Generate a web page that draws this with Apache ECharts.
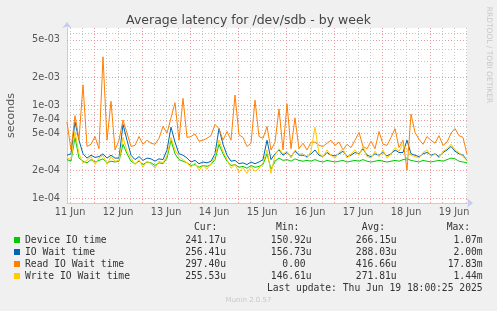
<!DOCTYPE html>
<html><head><meta charset="utf-8">
<script src="https://cdn.jsdelivr.net/npm/echarts@6/dist/echarts.min.js"></script>
<style>html,body{margin:0;padding:0;background:#f0f0f0;}#c{width:497px;height:311px;}</style>
</head><body><div id="c"></div>
<script>
// ---- data ----
const seriesNames = ['Device IO time', 'IO Wait time', 'Read IO Wait time', 'Write IO Wait time'];
const startHour = 10.5;   // hours after 11 Jun 00:00
const stepHours = 2;
const endHour = 210.5;
// values in microseconds
const deviceUs = [
  260,250,450,270,250,240,260,245,255,265,
  240,250,245,250,380,300,250,235,250,230,
  245,240,225,240,235,270,420,300,260,250,
  240,225,230,215,225,220,230,260,380,300,
  250,225,230,215,220,210,225,215,220,230,
  300,205,250,270,255,260,250,265,255,250,
  255,250,260,250,245,255,250,245,250,255,
  245,250,255,250,260,250,245,250,255,250,
  245,250,255,250,260,265,255,250,245,255,
  250,245,250,255,250,260,270,265,250,245,
  241];
const ioWaitUs = [
  290,300,660,420,300,270,290,275,280,300,
  270,290,270,270,620,420,290,260,280,255,
  270,265,250,265,260,330,580,400,300,290,
  270,245,255,235,245,240,250,300,560,380,
  290,250,255,235,240,230,245,235,245,260,
  420,260,300,330,290,310,280,320,290,290,
  280,300,330,290,280,310,290,285,300,320,
  280,290,310,300,340,290,280,300,290,310,
  285,300,330,310,310,420,300,290,280,300,
  310,290,300,280,310,330,360,320,300,290,
  256];
const readUs = [
  660,330,770,430,1650,360,380,460,340,3300,
  420,1100,330,420,690,500,360,370,460,380,
  420,390,380,440,590,500,730,1060,420,1180,
  450,460,490,410,420,440,470,620,560,420,
  520,420,1280,480,450,360,390,1130,460,440,
  590,330,400,910,330,1030,340,730,340,390,
  330,400,400,370,360,390,420,370,400,330,
  380,350,420,510,360,340,410,340,520,380,
  370,450,560,350,420,200,800,510,430,380,
  460,420,390,470,370,400,500,560,470,450,
  297];
const writeUs = [
  270,260,520,300,240,255,280,230,270,290,
  230,280,250,255,450,320,270,230,260,215,
  250,235,210,250,240,290,450,330,280,260,
  240,215,240,200,225,205,235,280,420,320,
  260,210,230,190,215,185,220,195,210,240,
  330,185,290,340,300,320,270,330,300,300,
  270,320,580,300,280,330,290,270,310,340,
  270,300,330,290,360,280,270,320,280,330,
  270,300,350,320,380,330,290,280,270,310,
  330,280,300,270,320,340,380,330,310,280,
  255];
const yMin = 8.9e-5, yMax = 6.72e-3;
const yLabelValues = [1e-4, 2e-4, 5e-4, 7e-4, 1e-3, 2e-3, 5e-3];
const yMinorValues = [3e-4, 4e-4, 6e-4, 8e-4, 9e-4, 3e-3, 4e-3, 6e-3];
const xLabelHours = [12, 36, 60, 84, 108, 132, 156, 180, 204];
const xLabelTexts = ['11 Jun','12 Jun','13 Jun','14 Jun','15 Jun','16 Jun','17 Jun','18 Jun','19 Jun'];
const xDayHours = [24, 48, 72, 96, 120, 144, 168, 192];
const xMinorHours = [12,18,30,36,42,54,60,66,78,84,90,102,108,114,126,132,138,150,156,162,174,180,186,198,204,210];
const statHeaders = ['Cur:', 'Min:', 'Avg:', 'Max:'];
const curVals = ['241.17u', '256.41u', '297.40u', '255.53u'];
const minVals = ['150.92u', '156.73u', '0.00', '146.61u'];
const avgVals = ['266.15u', '288.03u', '416.66u', '271.81u'];
const maxVals = ['1.07m', '2.00m', '17.83m', '1.44m'];
const titleText = 'Average latency for /dev/sdb - by week';
const lastUpdate = 'Last update: Thu Jun 19 18:00:25 2025';
const watermark = 'Munin 2.0.57';
const sideText = 'RRDTOOL / TOBI OETIKER';

// ---- chart ----
const colors = ['#00cc00', '#0066b3', '#ff8000', '#ffcc00'];
const allData = [deviceUs, ioWaitUs, readUs, writeUs];
const toPairs = arr => arr.map((v, i) => [startHour + i * stepHours, v / 1e6]);
const mono = '"DejaVu Sans Mono", monospace';
const sans = '"DejaVu Sans", sans-serif';
const RED = '#e89a9a', GRAY = '#c4c4c4';
const mkLine = c => ({ color: c, type: [1, 2], width: 1 });

// vertical grid: markLines on the x axis
const vGridSeries = {
  name: '_vgrid', type: 'line', data: [], silent: true, z: 1,
  markLine: {
    silent: true, symbol: ['none', 'none'], animation: false, z: 1, precision: 12,
    label: { show: false }, emphasis: { disabled: true },
    data: [
      ...xMinorHours.map(h => ({ xAxis: h, lineStyle: mkLine(GRAY) })),
      ...xDayHours.map(h => ({ xAxis: h, lineStyle: mkLine(RED) }))
    ]
  }
};

const dataSeries = seriesNames.map((n, k) => ({
  name: n, type: 'line', data: toPairs(allData[k]), showSymbol: false, symbol: 'none',
  lineStyle: { width: 1, color: colors[k] }, itemStyle: { color: colors[k] },
  z: 2 + k, animation: false, silent: true
}));

const graphics = [];
const colRight = [226, 311.7, 396.7, 482.7];
const headRight = [217.3, 299.3, 385, 470];
const rowsY = [240, 252, 264, 276];
const cols = [curVals, minVals, avgVals, maxVals];
statHeaders.forEach((h, c) => graphics.push({ type: 'text', x: headRight[c], y: 227.5,
  style: { text: h, textAlign: 'right', textVerticalAlign: 'middle', font: '9.7px ' + mono, fill: '#333' } }));
cols.forEach((col, c) => col.forEach((t, r) => graphics.push({ type: 'text',
  x: t === '0.00' ? colRight[c] - 6 : colRight[c], y: rowsY[r],
  style: { text: t, textAlign: 'right', textVerticalAlign: 'middle', font: '9.7px ' + mono, fill: '#333' } })));
graphics.push({ type: 'text', x: 482.7, y: 288, style: { text: lastUpdate, textAlign: 'right', textVerticalAlign: 'middle', font: '9.7px ' + mono, fill: '#333' } });
graphics.push({ type: 'text', x: 248.5, y: 300, style: { text: watermark, textAlign: 'center', textVerticalAlign: 'middle', font: '7px ' + sans, fill: '#c8c8c8' } });
graphics.push({ type: 'text', x: 489, y: 55, rotation: -Math.PI / 2, style: { text: sideText, textAlign: 'center', textVerticalAlign: 'middle', font: '7.5px ' + sans, fill: '#c8c8c8' } });

const axisLineStyle = { show: true, lineStyle: { color: '#c6caf0', width: 1 }, symbol: ['none', 'arrow'], symbolSize: [7, 6], symbolOffset: [0, 6] };

const chart = echarts.init(document.getElementById('c'), null, { renderer: 'canvas' });
chart.setOption({
  backgroundColor: '#f0f0f0',
  animation: false,
  title: { text: titleText, left: 'center', top: 9, textStyle: { fontFamily: sans, fontSize: 12.5, fontWeight: 'normal', color: '#444' } },
  grid: { left: 67, right: 30, top: 28, bottom: 108, show: true, backgroundColor: '#ffffff', borderWidth: 0, containLabel: false, outerBoundsMode: 'none' },
  legend: {
    data: seriesNames, orient: 'vertical', left: 14, top: 234, itemWidth: 6, itemHeight: 6, itemGap: 0,
    icon: 'rect', selectedMode: false, padding: 0,
    textStyle: { fontFamily: mono, fontSize: 9.7, color: '#333', lineHeight: 12 }
  },
  xAxis: {
    type: 'value', min: startHour, max: endHour,
    axisLine: axisLineStyle,
    axisTick: { show: false }, splitLine: { show: false },
    axisLabel: { customValues: xLabelHours, margin: 4, fontFamily: sans, fontSize: 9.7, color: '#555',
      formatter: v => xLabelTexts[xLabelHours.indexOf(v)] || '' }
  },
  yAxis: {
    type: 'log', logBase: 10, min: yMin, max: yMax,
    name: 'seconds', nameLocation: 'middle', nameRotate: 90, nameGap: 50,
    nameTextStyle: { fontFamily: sans, fontSize: 11, color: '#555' },
    axisLine: axisLineStyle,
    axisTick: { show: false }, splitLine: { show: false }, minorSplitLine: { show: false },
    axisLabel: { customValues: yLabelValues, margin: 7, fontFamily: sans, fontSize: 9.7, color: '#555',
      formatter: v => v.toExponential(0).replace(/e([+-])(\d)$/, 'e$10$2') }
  },
  series: [vGridSeries, ...dataSeries],
  graphic: graphics
});

// horizontal grid lines, positioned through the chart's own log scale
try {
  const hItems = [...yMinorValues.map(v => [v, GRAY]), ...yLabelValues.map(v => [v, RED])];
  const hLines = hItems.map(([v, c]) => {
    const p0 = chart.convertToPixel({ gridIndex: 0 }, [startHour, v]);
    const p1 = chart.convertToPixel({ gridIndex: 0 }, [endHour, v]);
    const y = Math.round(p0[1]) + 0.5;
    return { type: 'line', z: 1, silent: true,
      shape: { x1: p0[0], y1: y, x2: p1[0], y2: y },
      style: { stroke: c, lineWidth: 1, lineDash: [1, 2] } };
  });
  chart.setOption({ graphic: [...graphics, ...hLines] });
} catch (e) { /* keep chart without horizontal grid */ }
</script></body></html>
